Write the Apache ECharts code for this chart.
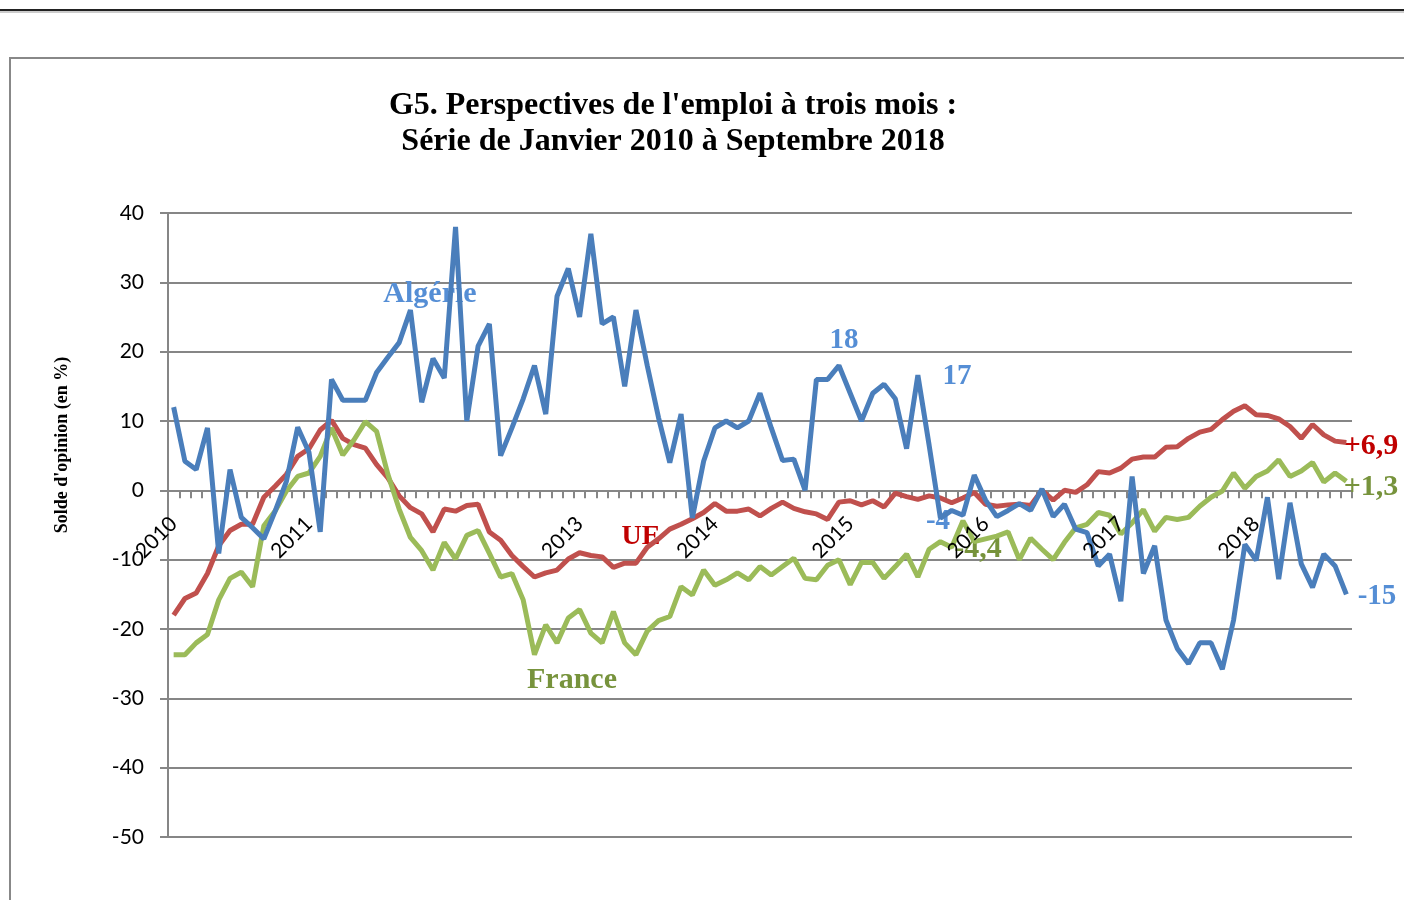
<!DOCTYPE html>
<html><head><meta charset="utf-8">
<script src="https://cdn.jsdelivr.net/npm/echarts@6/dist/echarts.min.js"></script>
<style>html,body{margin:0;padding:0;background:#fff}#c{width:1404px;height:900px}</style>
</head><body><div id="c"></div>
<script>
// Monthly series, January 2010 -> September 2018 (105 months)
const startYear = 2010;
const monthCount = 105;
// Year tick labels shown at each January (2012 is absent in the original chart)
const yearLabels = ['2010', '2011', '', '2013', '2014', '2015', '2016', '2017', '2018'];
const yTicks = { min: -50, max: 40, interval: 10 };

const algerie = [
  12, 4.2, 3.0, 9.0, -9.1, 3.0, -3.9, -5.4, -7.0, -3.0, 1.3, 9.1,
  5.5, -6.0, 16.0, 13.0, 13.0, 13.0, 17.0, 19.2, 21.3, 26.0, 12.7, 19.0,
  16.2, 38.0, 10.0, 20.8, 24.0, 5.0, 9.0, 13.2, 18.0, 11.0, 28.0, 32.0,
  25.0, 37.0, 24.0, 25.0, 15.0, 26.0, 18.0, 10.5, 4.0, 11.0, -4.0, 4.2,
  9.0, 10.0, 9.0, 10.0, 14.0, 9.0, 4.3, 4.5, 0.0, 16.0, 16.0, 18.0,
  14.0, 10.0, 14.0, 15.3, 13.2, 6.0, 16.6, 6.5, -4.0, -2.9, -3.6, 2.2,
  -1.4, -3.8, -2.9, -1.9, -2.9, 0.2, -3.8, -2.0, -5.6, -6.1, -10.9, -9.2,
  -16.0, 2.0, -12.0, -8.0, -18.7, -22.8, -25.0, -22.0, -22.0, -25.8, -18.7, -7.8,
  -10.1, -1.0, -12.8, -1.8, -10.6, -14.0, -9.2, -10.9, -15.0
];
const ue = [
  -18.0, -15.6, -14.8, -12.0, -8.0, -5.8, -4.9, -4.9, -1.0, 0.6, 2.3, 4.9,
  6.0, 8.7, 10.1, 7.5, 6.6, 6.1, 3.7, 1.8, -0.8, -2.5, -3.4, -6.0,
  -2.7, -3.0, -2.2, -2.0, -6.0, -7.2, -9.4, -11.0, -12.5, -11.9, -11.5, -9.9,
  -9.0, -9.4, -9.6, -11.1, -10.5, -10.5, -8.2, -7.0, -5.6, -4.9, -4.1, -3.2,
  -1.9, -3.0, -3.0, -2.7, -3.7, -2.6, -1.7, -2.6, -3.1, -3.4, -4.2, -1.7,
  -1.5, -2.1, -1.5, -2.4, -0.4, -0.9, -1.3, -0.8, -1.1, -1.8, -1.1, -0.3,
  -2.0, -2.3, -2.1, -2.0, -2.2, 0.0, -1.4, 0.0, -0.3, 0.8, 2.7, 2.5,
  3.2, 4.5, 4.8, 4.8, 6.2, 6.3, 7.5, 8.4, 8.8, 10.2, 11.4, 12.2,
  10.9, 10.8, 10.3, 9.2, 7.5, 9.5, 8.0, 7.1, 6.9
];
const france = [
  -23.7, -23.7, -22.0, -20.8, -15.8, -12.7, -11.8, -13.9, -5.1, -3.0, -0.1, 2.0,
  2.5, 4.9, 9.0, 5.1, 7.3, 9.9, 8.5, 2.3, -2.7, -6.8, -8.7, -11.5,
  -7.5, -9.9, -6.5, -5.8, -9.1, -12.5, -12.0, -15.8, -23.7, -19.4, -22.0, -18.4,
  -17.2, -20.6, -22.0, -17.5, -22.0, -23.7, -20.3, -18.8, -18.2, -13.9, -15.1, -11.5,
  -13.7, -12.9, -11.9, -12.9, -11.0, -12.2, -11.0, -9.8, -12.7, -12.9, -10.8, -10.0,
  -13.6, -10.4, -10.4, -12.7, -11.0, -9.2, -12.5, -8.5, -7.4, -8.2, -4.4, -7.4,
  -7.0, -6.6, -6.0, -10.0, -6.9, -8.5, -10.0, -7.5, -5.4, -4.9, -3.2, -3.6,
  -6.3, -4.7, -2.8, -5.9, -3.9, -4.2, -3.9, -2.3, -1.0, -0.1, 2.5, 0.3,
  2.0, 2.8, 4.4, 2.0, 2.8, 4.0, 1.2, 2.5, 1.3
];

const categories = [];
for (let i = 0; i < monthCount; i++) {
  const y = startYear + Math.floor(i / 12), m = (i % 12) + 1;
  categories.push(y + '-' + (m < 10 ? '0' + m : m));
}

const gridTop = 213, gridBottom = 63, chartH = 900;
const plotH = chartH - gridTop - gridBottom;
// distance from the grid bottom up to the zero line (used to put year labels on the zero axis)
const zeroOffset = plotH * (0 - yTicks.min) / (yTicks.max - yTicks.min);

const blueTxt = '#558ED5', redTxt = '#C00000', greenTxt = '#77933C';
const serif = '"Liberation Serif", "Times New Roman", serif';
function note(text, x, y, size, color) {
  return { type: 'text', x: x, y: y, z: 1,
    style: { text: text, font: 'bold ' + size + 'px ' + serif, fill: color,
      align: 'center', verticalAlign: 'middle', textAlign: 'center', textVerticalAlign: 'middle' } };
}
function yearFormatter(v) {
  const p = v.split('-');
  return p[1] === '01' ? yearLabels[parseInt(p[0], 10) - startYear] : '';
}

const chart = echarts.init(document.getElementById('c'), null, { renderer: 'canvas' });
chart.setOption({
  animation: false,
  backgroundColor: '#fff',
  grid: { left: 168, right: 52, top: gridTop, bottom: gridBottom, containLabel: false, outerBoundsMode: 'none' },
  xAxis: [{
    type: 'category',
    data: categories,
    boundaryGap: true,
    axisLine: { onZero: true, lineStyle: { color: '#868686', width: 2 } },
    axisTick: { show: true, interval: 0, length: 8, lineStyle: { color: '#868686', width: 2 } },
    axisLabel: { show: false },
    splitLine: { show: false }
  }, {
    type: 'category',
    data: categories,
    boundaryGap: true,
    position: 'bottom',
    offset: -zeroOffset,
    z: 10,
    axisLine: { show: false, onZero: false },
    axisTick: { show: false },
    axisLabel: {
      interval: 0, rotate: 45, margin: 30,
      fontFamily: 'Lato', fontSize: 21, color: '#000',
      formatter: yearFormatter
    },
    splitLine: { show: false }
  }],
  yAxis: {
    type: 'value', min: yTicks.min, max: yTicks.max, interval: yTicks.interval,
    axisLine: { show: true, lineStyle: { color: '#868686', width: 2 } },
    axisTick: { show: true, length: 8, lineStyle: { color: '#868686', width: 2 } },
    axisLabel: { margin: 24, fontFamily: 'Lato', fontSize: 21, color: '#000' },
    splitLine: { show: true, lineStyle: { color: '#868686', width: 2 } }
  },
  series: [
    { name: 'UE', type: 'line', data: ue, symbol: 'none', z: 3,
      lineStyle: { color: '#C0504D', width: 5 }, itemStyle: { color: '#C0504D' } },
    { name: 'France', type: 'line', data: france, symbol: 'none', z: 4,
      lineStyle: { color: '#9BBB59', width: 5 }, itemStyle: { color: '#9BBB59' } },
    { name: 'Algérie', type: 'line', data: algerie, symbol: 'none', z: 5,
      lineStyle: { color: '#4A7EBB', width: 5 }, itemStyle: { color: '#4A7EBB' } }
  ],
  graphic: [
    { type: 'line', z: 0, shape: { x1: 0, y1: 10, x2: 1404, y2: 10 }, style: { stroke: '#222', lineWidth: 2 } },
    { type: 'line', z: 0, shape: { x1: 0, y1: 12, x2: 1404, y2: 12 }, style: { stroke: '#999', lineWidth: 1 } },
    { type: 'line', z: 0, shape: { x1: 9, y1: 58, x2: 1404, y2: 58 }, style: { stroke: '#888', lineWidth: 2 } },
    { type: 'line', z: 0, shape: { x1: 10, y1: 57, x2: 10, y2: 900 }, style: { stroke: '#888', lineWidth: 2 } },
    { type: 'text', x: 673, y: 124, z: 1,
      style: { text: "G5. Perspectives de l'emploi à trois mois :\nSérie de Janvier 2010 à Septembre 2018",
        font: 'bold 32px ' + serif, fill: '#000', lineHeight: 36,
        align: 'center', verticalAlign: 'middle', textAlign: 'center', textVerticalAlign: 'middle' } },
    { type: 'text', x: 62, y: 445, rotation: Math.PI / 2, z: 1,
      style: { text: "Solde d'opinion (en %)", font: 'bold 18px ' + serif, fill: '#000',
        align: 'center', verticalAlign: 'middle', textAlign: 'center', textVerticalAlign: 'middle' } },
    note('Algérie', 430, 294, 30, blueTxt),
    note('18', 844, 341, 29, blueTxt),
    note('17', 957, 377, 29, blueTxt),
    note('-4', 938, 522, 29, blueTxt),
    note('-15', 1377, 597, 29, blueTxt),
    note('+6,9', 1371, 446, 30, redTxt),
    note('+1,3', 1371, 487, 30, greenTxt),
    note('UE', 641, 537, 28, redTxt),
    note('France', 572, 680, 30, greenTxt),
    note('-4,4', 978, 549, 30, greenTxt)
  ]
});
</script>
</body></html>
